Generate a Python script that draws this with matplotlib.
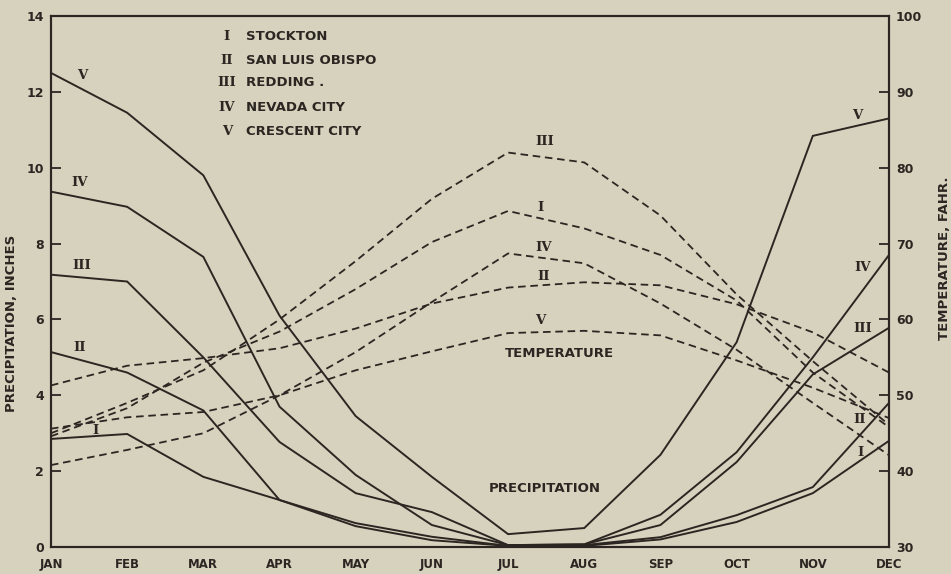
import matplotlib

matplotlib.use("Agg")
import matplotlib.pyplot as plt

months = ["JAN", "FEB", "MAR", "APR", "MAY", "JUN", "JUL", "AUG", "SEP", "OCT", "NOV", "DEC"]
numerals = ["I", "II", "III", "IV", "V"]
cities = ["STOCKTON", "SAN LUIS OBISPO", "REDDING .", "NEVADA CITY", "CRESCENT CITY"]

# monthly precipitation, inches
precip_stockton = [2.85, 2.98, 1.85, 1.24, 0.63, 0.27, 0.03, 0.03, 0.20, 0.66, 1.42, 2.80]
precip_san_luis = [5.14, 4.60, 3.60, 1.24, 0.55, 0.18, 0.03, 0.05, 0.26, 0.84, 1.58, 3.80]
precip_redding = [7.18, 7.00, 5.00, 2.77, 1.42, 0.92, 0.05, 0.07, 0.58, 2.24, 4.55, 5.78]
precip_nevada = [9.37, 8.97, 7.65, 3.70, 1.90, 0.58, 0.05, 0.07, 0.85, 2.50, 5.00, 7.70]
precip_crescent = [12.50, 11.45, 9.80, 6.10, 3.45, 1.85, 0.34, 0.50, 2.43, 5.40, 10.84, 11.30]

# monthly mean temperature, deg F
temp_stockton = [44.6, 48.3, 54.3, 58.4, 64.0, 70.2, 74.3, 72.0, 68.5, 62.5, 53.0, 45.8]
temp_san_luis = [51.3, 53.9, 54.9, 56.2, 58.8, 62.1, 64.2, 64.9, 64.5, 62.0, 58.3, 53.0]
temp_redding = [45.0, 49.0, 53.3, 60.0, 67.7, 75.9, 82.0, 80.7, 73.7, 63.3, 54.5, 46.1]
temp_nevada = [40.8, 42.8, 45.0, 50.0, 55.7, 62.3, 68.7, 67.4, 62.1, 56.0, 49.0, 42.1]
temp_crescent = [45.6, 47.1, 47.8, 50.0, 53.3, 55.8, 58.2, 58.5, 57.9, 54.6, 51.0, 47.0]

precip_series = [precip_stockton, precip_san_luis, precip_redding, precip_nevada, precip_crescent]
temp_series = [temp_stockton, temp_san_luis, temp_redding, temp_nevada, temp_crescent]

BG = "#d7d2bd"
INK = "#2b2622"


def main() -> None:
    fig = plt.figure(figsize=(9.51, 5.74), dpi=100, facecolor=BG)
    ax = fig.add_axes([0.0536, 0.047, 0.8812, 0.9251])
    ax.set_facecolor(BG)
    ax2 = ax.twinx()

    x = list(range(len(months)))
    for values in precip_series:
        ax.plot(x, values, color=INK, linewidth=1.4, solid_joinstyle="miter")
    for values in temp_series:
        ax2.plot(x, values, color=INK, linewidth=1.3, linestyle=(0, (4.2, 2.6)))

    ax.set_xlim(0, 11)
    ax.set_ylim(0, 14)
    ax2.set_ylim(30, 100)

    ax.set_xticks(x)
    ax.set_xticklabels(months, fontsize=8.5, fontweight="bold", color=INK)
    ax.tick_params(axis="x", length=0, pad=8)
    ax.set_yticks(range(0, 15, 2))
    ax.tick_params(axis="y", direction="in", length=7, width=1.3, pad=5,
                   labelsize=9, colors=INK)
    ax2.set_yticks(range(30, 101, 10))
    ax2.tick_params(axis="y", direction="in", length=7, width=1.3, pad=5,
                    labelsize=9, colors=INK)
    for lbl in ax.get_yticklabels() + ax2.get_yticklabels():
        lbl.set_fontweight("semibold")

    for a in (ax, ax2):
        for spine in a.spines.values():
            spine.set_linewidth(1.5)
            spine.set_color(INK)

    ax.set_ylabel("PRECIPITATION, INCHES", fontsize=9.5, fontweight="bold", color=INK)
    ax.yaxis.set_label_coords(-0.039, 0.422)
    ax2.set_ylabel("TEMPERATURE, FAHR.", fontsize=9.5, fontweight="bold", color=INK,
                   rotation=90)
    ax2.yaxis.set_label_coords(1.058, 0.544)

    roman = dict(family="DejaVu Serif", fontweight="bold", fontsize=9.5,
                 color=INK, ha="center", va="center")
    plain = dict(family="DejaVu Sans", fontweight="bold", fontsize=9.5, color=INK,
                 va="center")

    # legend block, upper left
    legend_y = [13.45, 12.84, 12.24, 11.58, 10.95]
    for num, name, yy in zip(numerals, cities, legend_y):
        ax.text(2.31, yy, num, **roman)
        ax.text(2.56, yy, name, ha="left", **plain)

    # precipitation labels on the left
    for num, (lx, ly) in zip(numerals, [(0.59, 3.08), (0.38, 5.25), (0.41, 7.43),
                                         (0.38, 9.6), (0.41, 12.44)]):
        ax.text(lx, ly, num, **roman)
    # precipitation labels on the right
    for num, (lx, ly) in zip(numerals, [(10.62, 2.5), (10.62, 3.35), (10.66, 5.75),
                                         (10.66, 7.38), (10.58, 11.39)]):
        ax.text(lx, ly, num, **roman)
    # temperature labels near the peak
    for num, (lx, ly) in zip(numerals, [(6.43, 74.8), (6.46, 65.6), (6.48, 83.4),
                                         (6.46, 69.5), (6.42, 59.9)]):
        ax2.text(lx, ly, num, **roman)

    ax.text(6.68, 5.11, "TEMPERATURE", ha="center", **plain)
    ax.text(6.48, 1.53, "PRECIPITATION", ha="center", **plain)

    fig.savefig("out.png", dpi=100, facecolor=BG)
    plt.close(fig)


if __name__ == "__main__":
    main()
